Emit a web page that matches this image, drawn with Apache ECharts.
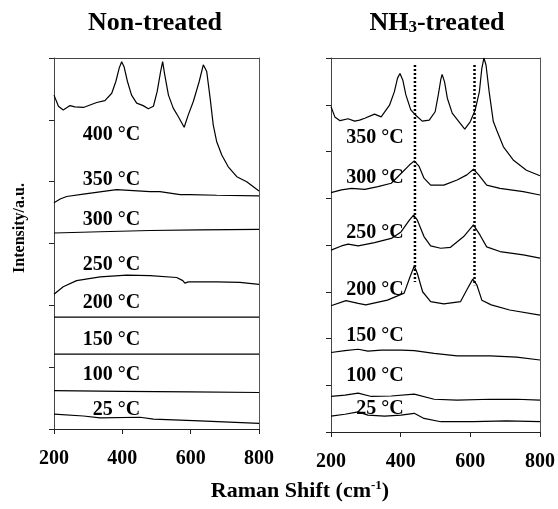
<!DOCTYPE html>
<html><head><meta charset="utf-8">
<script src="https://cdn.jsdelivr.net/npm/echarts@6/dist/echarts.min.js"></script>
<style>html,body{margin:0;padding:0;background:#fff}#c{width:558px;height:509px}</style>
</head><body><div id="c"></div>
<script>
// ---- data ----
const xTicks = [200, 400, 600, 800];
const tempLabels = ['400 °C','350 °C','300 °C','250 °C','200 °C','150 °C','100 °C','25 °C'];
const tempLabelsNH3 = ['350 °C','300 °C','250 °C','200 °C','150 °C','100 °C','25 °C'];
// label anchors (x, offset) in data units
const labelAnchorX = 452;
const labelAnchorY = [4.76, 4.03, 3.38, 2.65, 2.04, 1.44, 0.87, 0.31];
const labelAnchorXNH3 = 409;
const labelAnchorYNH3 = [6.29, 5.44, 4.26, 3.04, 2.05, 1.20, 0.49];

// Non-treated spectra (x: cm-1, y: stacked intensity)
const nt400 = [[200,5.40],[213,5.22],[227,5.16],[247,5.23],[261,5.21],[286,5.20],[325,5.28],[349,5.31],[369,5.43],[381,5.62],[391,5.84],[398,5.94],[405,5.86],[415,5.62],[427,5.40],[442,5.27],[461,5.23],[476,5.18],[491,5.22],[502,5.46],[512,5.78],[518,5.94],[524,5.73],[535,5.40],[549,5.19],[564,5.05],[581,4.88],[593,5.08],[608,5.30],[625,5.62],[637,5.89],[640,5.92],[647,5.78],[657,5.35],[666,4.92],[676,4.65],[691,4.43],[710,4.24],[735,4.08],[764,4.00],[800,3.85]];
const nt350 = [[200,3.66],[218,3.72],[237,3.76],[286,3.80],[383,3.87],[481,3.84],[510,3.84],[569,3.79],[598,3.79],[676,3.78],[800,3.77]];
const nt300 = [[200,3.17],[335,3.19],[481,3.21],[627,3.22],[800,3.23]];
const nt250 = [[200,2.18],[227,2.30],[266,2.40],[335,2.46],[413,2.49],[481,2.48],[559,2.45],[577,2.40],[583,2.36],[593,2.38],[676,2.38],[744,2.37],[800,2.34]];
const nt200 = [[200,1.81],[400,1.81],[600,1.81],[800,1.81]];
const nt150 = [[200,1.21],[400,1.21],[600,1.21],[800,1.21]];
const nt100 = [[200,0.62],[400,0.61],[600,0.60],[800,0.59]];
const nt25 = [[200,0.24],[286,0.21],[335,0.18],[452,0.19],[491,0.16],[627,0.13],[800,0.09]];

// NH3-treated spectra
const nh350 = [[200,6.96],[211,6.74],[226,6.66],[249,6.70],[268,6.65],[282,6.67],[297,6.71],[325,6.80],[344,6.74],[368,6.99],[382,7.28],[391,7.57],[398,7.67],[406,7.53],[415,7.21],[429,6.89],[444,6.77],[462,6.65],[482,6.67],[499,6.85],[508,7.21],[515,7.53],[519,7.65],[526,7.49],[534,7.14],[548,6.82],[567,6.64],[584,6.48],[600,6.64],[614,6.89],[626,7.28],[633,7.78],[639,8.00],[645,7.85],[654,7.28],[666,6.64],[676,6.45],[695,6.10],[723,5.82],[761,5.60],[800,5.48]];
const nh300 = [[200,5.12],[230,5.18],[259,5.21],[297,5.19],[335,5.25],[373,5.32],[401,5.53],[425,5.71],[439,5.80],[453,5.68],[467,5.43],[486,5.28],[524,5.28],[562,5.39],[590,5.50],[609,5.62],[624,5.50],[647,5.28],[685,5.21],[752,5.14],[800,5.07]];
const nh250 = [[200,3.89],[230,3.98],[249,4.02],[278,3.98],[325,4.05],[373,4.14],[401,4.28],[425,4.53],[437,4.64],[448,4.53],[467,4.18],[486,3.98],[515,3.93],[543,3.95],[581,4.18],[609,4.43],[628,4.21],[647,3.96],[685,3.86],[752,3.79],[800,3.72]];
const nh200 = [[200,2.70],[243,2.81],[278,2.75],[300,2.72],[362,2.82],[410,2.97],[427,3.32],[439,3.55],[448,3.39],[463,3.00],[486,2.79],[524,2.74],[572,2.79],[592,3.07],[607,3.27],[619,3.14],[633,2.82],[660,2.72],[713,2.61],[800,2.50]];
const nh150 = [[200,1.70],[240,1.74],[278,1.77],[306,1.73],[344,1.75],[401,1.75],[439,1.74],[496,1.68],[562,1.63],[657,1.63],[733,1.60],[800,1.54]];
const nh100 = [[200,0.76],[240,0.79],[278,0.83],[316,0.76],[373,0.77],[439,0.81],[496,0.70],[562,0.68],[657,0.70],[733,0.70],[800,0.68]];
const nh25 = [[200,0.34],[240,0.38],[278,0.43],[306,0.36],[354,0.34],[401,0.36],[439,0.40],[467,0.29],[515,0.22],[609,0.22],[704,0.24],[800,0.22]];

// dotted reference lines (peak positions)
const refLine1 = [[441,7.85],[441,3.21]];
const refLine2 = [[612,7.85],[612,3.14]];

// ---- chart ----
const FONT = '"Liberation Serif","Times New Roman",serif';
const chart = echarts.init(document.getElementById('c'), null, {renderer:'canvas'});

function xAx(gi){
  return {gridIndex:gi, type:'value', min:200, max:800, interval:200, position:'bottom',
    axisLine:{lineStyle:{color:'#222',width:1}},
    axisTick:{length:5,lineStyle:{color:'#222'}},
    splitLine:{show:false},
    axisLabel:{color:'#000',fontFamily:FONT,fontWeight:'bold',fontSize:20,margin:20,
      formatter:v=> xTicks.includes(v)? String(v):''}};
}
function xTop(gi){
  return {gridIndex:gi, type:'value', min:200, max:800, position:'top', show:true,
    axisLine:{show:true,onZero:false,lineStyle:{color:'#444',width:1}},
    axisTick:{show:false}, axisLabel:{show:false}, splitLine:{show:false}};
}
function yAx(gi,max){
  return {gridIndex:gi, type:'value', min:0, max:max, interval:1, position:'left',
    axisLine:{show:true,lineStyle:{color:'#444',width:1}},
    axisTick:{show:true,length:5,lineStyle:{color:'#222'}},
    axisLabel:{show:false}, splitLine:{show:false}};
}
function yRight(gi,max){
  return {gridIndex:gi, type:'value', min:0, max:max, position:'right',
    axisLine:{show:true,onZero:false,lineStyle:{color:'#555',width:1}},
    axisTick:{show:false}, axisLabel:{show:false}, splitLine:{show:false}};
}
function line(data, xi, yi, extra){
  return Object.assign({type:'line', data:data, xAxisIndex:xi, yAxisIndex:yi,
    showSymbol:false, symbol:'none', smooth:false, clip:true, silent:true,
    lineStyle:{color:'#000',width:1.2}}, extra||{});
}
function labels(names, ax, ays, xi, yi){
  return {type:'scatter', xAxisIndex:xi, yAxisIndex:yi, symbolSize:0, silent:true, z:5,
    itemStyle:{opacity:1},
    data: names.map((n,i)=>({value:[ax, ays[i]], name:n})),
    label:{show:true, position:'left', distance:0, formatter:p=>p.name, opacity:1,
      color:'#000', fontFamily:FONT, fontWeight:'bold', fontSize:20,
      align:'right', verticalAlign:'middle'}};
}

const option = {
  animation:false,
  backgroundColor:'#fff',
  grid:[
    {left:54, top:58, width:205, height:371},
    {left:331, top:58, width:211, height:374}
  ],
  xAxis:[xAx(0), xAx(1), xTop(0), xTop(1)],
  yAxis:[yAx(0,6), yAx(1,8), yRight(0,6), yRight(1,8)],
  series:[
    line(nt400,0,0), line(nt350,0,0), line(nt300,0,0), line(nt250,0,0),
    line(nt200,0,0), line(nt150,0,0), line(nt100,0,0), line(nt25,0,0),
    line(nh350,1,1), line(nh300,1,1), line(nh250,1,1), line(nh200,1,1),
    line(nh150,1,1), line(nh100,1,1), line(nh25,1,1),
    line(refLine1,1,1,{lineStyle:{color:'#000',width:2.5,type:[2,2]}}),
    line(refLine2,1,1,{lineStyle:{color:'#000',width:2.5,type:[2,2]}}),
    labels(tempLabels, labelAnchorX, labelAnchorY, 0, 0),
    labels(tempLabelsNH3, labelAnchorXNH3, labelAnchorYNH3, 1, 1)
  ],
  graphic:[
    {type:'text', style:{x:155, y:23, text:'Non-treated', align:'center', verticalAlign:'middle',
      fill:'#000', font:'bold 26px '+FONT}},
    {type:'text', style:{x:437, y:23, text:'NH{sub|3}-treated', align:'center', verticalAlign:'middle',
      fill:'#000', font:'bold 26px '+FONT,
      rich:{sub:{fontSize:17, fontWeight:'bold', fontFamily:FONT, verticalAlign:'bottom', lineHeight:12, padding:[8,0,0,0]}}}},
    {type:'text', x:20, y:228, rotation:Math.PI/2, style:{x:0, y:0, text:'Intensity/a.u.', align:'center', verticalAlign:'middle',
      fill:'#000', font:'bold 16px '+FONT}},
    {type:'text', style:{x:300, y:491, text:'Raman Shift (cm{sup|-1})', align:'center', verticalAlign:'middle',
      fill:'#000', font:'bold 22px '+FONT,
      rich:{sup:{fontSize:13, fontWeight:'bold', fontFamily:FONT, verticalAlign:'top', padding:[0,0,10,0]}}}}
  ]
};
chart.setOption(option);
</script></body></html>
